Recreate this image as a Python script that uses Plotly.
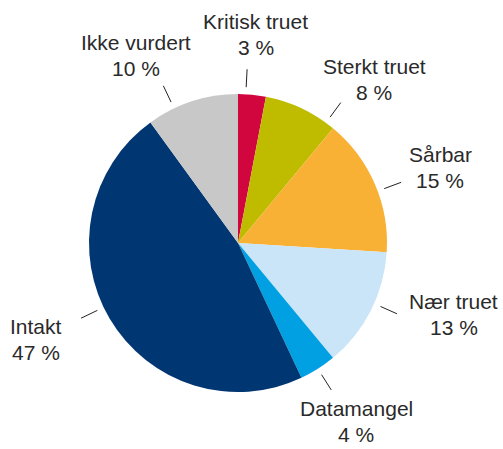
import math
import plotly.graph_objects as go

# Red List status of species, share in percent
categories = ["Kritisk truet", "Sterkt truet", "Sårbar", "Nær truet",
              "Datamangel", "Intakt", "Ikke vurdert"]
shares = [3, 8, 15, 13, 4, 47, 10]
colors = ["#D2063F", "#BFBC00", "#F9B135", "#C9E5F7",
          "#00A0E3", "#003671", "#C8C8C8"]

# placement relative to each slice's mid angle (deg) and text distance (px)
line_nudge = [-2.4, 11, 3, -3, 0, 5, -7.4]
label_nudge = [-0.5, 14.6, 2.9, -8.7, -1.1, 5.1, -10.6]
label_radius = [209, 213, 216, 227, 214, 224, 213]

W, H = 503, 449
CX, CY, R = 238, 243, 149          # pie centre and radius in pixels
LINE_GAP = 26                      # distance between name and value lines
FONT = dict(family="Liberation Sans", size=21, color="#2a2a2a")

fig = go.Figure(go.Pie(
    labels=categories,
    values=shares,
    marker=dict(colors=colors, line=dict(width=0)),
    sort=False,
    direction="clockwise",
    rotation=0,
    textinfo="none",
    hoverinfo="label+percent",
    domain=dict(x=[(CX - R) / W, (CX + R) / W],
                y=[(H - CY - R) / H, (H - CY + R) / H]),
    showlegend=False,
))


def polar_px(r, ang):
    a = math.radians(ang)
    return CX + r * math.sin(a), CY - r * math.cos(a)


total = sum(shares)
shapes, annotations = [], []
cum = 0
for i, (name, v) in enumerate(zip(categories, shares)):
    mid = (cum + v / 2) / total * 360
    cum += v
    ax0, ay0 = polar_px(156, mid + line_nudge[i])
    ax1, ay1 = polar_px(174, mid + line_nudge[i])
    shapes.append(dict(type="line", xref="paper", yref="paper",
                       x0=ax0 / W, y0=1 - ay0 / H,
                       x1=ax1 / W, y1=1 - ay1 / H,
                       line=dict(color="#222222", width=1)))
    tx, ty = polar_px(label_radius[i], mid + label_nudge[i])
    for text, dy in ((name, -LINE_GAP / 2), (f"{v} %", LINE_GAP / 2)):
        annotations.append(dict(xref="paper", yref="paper",
                                x=tx / W, y=1 - (ty + dy) / H,
                                text=text, showarrow=False,
                                xanchor="center", yanchor="middle",
                                borderpad=0, font=FONT))

fig.update_layout(
    width=W, height=H,
    margin=dict(l=0, r=0, t=0, b=0),
    paper_bgcolor="white",
    plot_bgcolor="white",
    shapes=shapes,
    annotations=annotations,
)

fig.write_html("out.html")
